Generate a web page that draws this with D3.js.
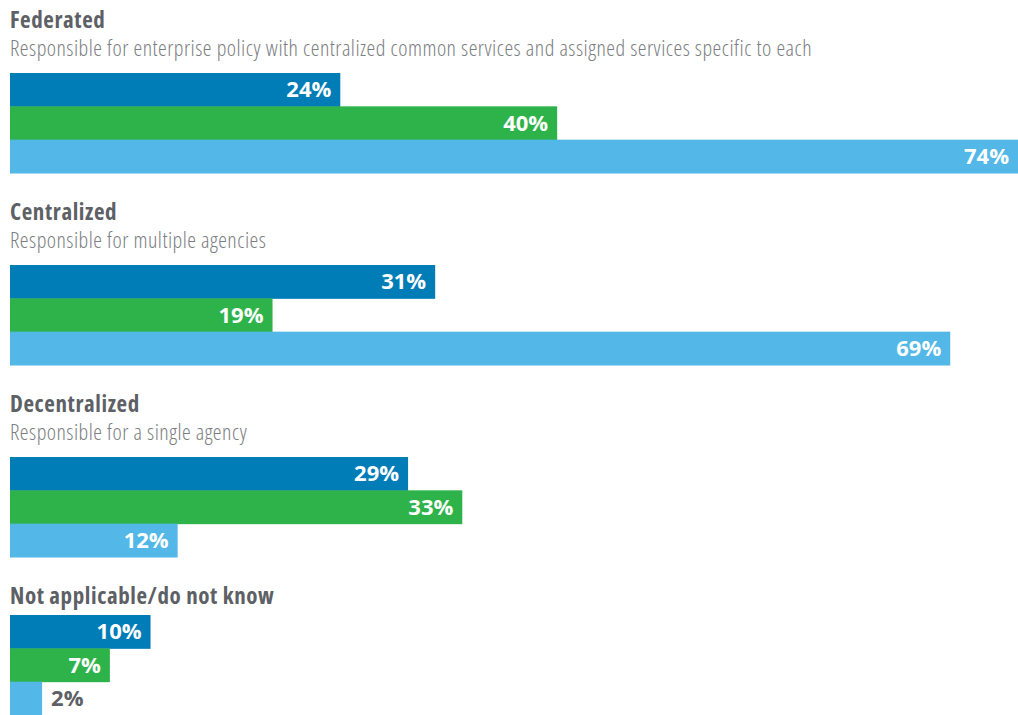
<!DOCTYPE html>
<html>
<head>
<meta charset="utf-8">
<script src="https://cdn.jsdelivr.net/npm/d3@7"></script>
<style>
  html, body { margin: 0; padding: 0; background: #fff; }
  svg { display: block; }
</style>
</head>
<body>
<div id="chart"></div>
<script>
const categories = ["Federated", "Centralized", "Decentralized", "Not applicable/do not know"]
const subtitles = [
  "Responsible for enterprise policy with centralized common services and assigned services specific to each",
  "Responsible for multiple agencies",
  "Responsible for a single agency",
  ""
]
const seriesKeys = ["s1", "s2", "s3"]
const s1Values = [24, 31, 29, 10]
const s2Values = [40, 19, 33, 7]
const s3Values = [74, 69, 12, 2]

const width = 1018
const height = 715

const colors = { s1: "#007cb6", s2: "#2db34a", s3: "#53b8e8" }

const rows = categories.map((c, i) => ({
  name: c,
  sub: subtitles[i],
  values: [
    { key: "s1", v: s1Values[i] },
    { key: "s2", v: s2Values[i] },
    { key: "s3", v: s3Values[i] }
  ]
}))

const svg = d3.select("#chart")
  .append("svg")
  .attr("width", width)
  .attr("height", height)

// bars start at x=10 with a small stub, value scale begins a few px in
const barLeft = 10
const x = d3.scaleLinear()
  .domain([0, 74])
  .range([15, width])

const blockH = 100
const y = d3.scaleBand()
  .domain(seriesKeys)
  .range([0, blockH])
  .padding(0)

// stack the groups top to bottom
let cursor = 28
rows.forEach(r => {
  r.titleY = cursor
  r.subY = cursor + 28
  r.barY = cursor + (r.sub ? 45 : 11)
  cursor = r.barY + blockH + 47
})

const group = svg.selectAll("g.grp")
  .data(rows)
  .join("g")
  .attr("class", "grp")

group.append("text")
  .attr("x", 10)
  .attr("y", d => d.titleY)
  .attr("font-family", "'Open Sans', sans-serif")
  .attr("font-weight", 700)
  .attr("font-stretch", "condensed")
  .attr("font-size", "23px")
  .attr("letter-spacing", "0.6px")
  .attr("fill", "#5d6065")
  .text(d => d.name)

group.filter(d => d.sub)
  .append("text")
  .attr("x", 10)
  .attr("y", d => d.subY)
  .attr("font-family", "'Open Sans', sans-serif")
  .attr("font-weight", 300)
  .attr("font-stretch", "condensed")
  .attr("font-size", "22px")
  .attr("letter-spacing", "0.5px")
  .attr("fill", "#7b7e82")
  .text(d => d.sub)

const bars = group.append("g")
  .attr("transform", d => `translate(0,${d.barY})`)
  .selectAll("g")
  .data(d => d.values)
  .join("g")

bars.append("rect")
  .attr("x", barLeft)
  .attr("y", d => y(d.key))
  .attr("width", d => x(d.v) - barLeft)
  .attr("height", y.bandwidth() + 0.5)
  .attr("fill", d => colors[d.key])

bars.append("text")
  .attr("x", d => d.v < 5 ? x(d.v) + 9 : x(d.v) - 9)
  .attr("y", d => y(d.key) + y.bandwidth() / 2 + 7.5)
  .attr("text-anchor", d => d.v < 5 ? "start" : "end")
  .attr("font-family", "'Open Sans', sans-serif")
  .attr("font-weight", 700)
  .attr("font-size", "22px")
  .attr("fill", d => d.v < 5 ? "#5d6065" : "#ffffff")
  .text(d => d.v + "%")
</script>
</body>
</html>
